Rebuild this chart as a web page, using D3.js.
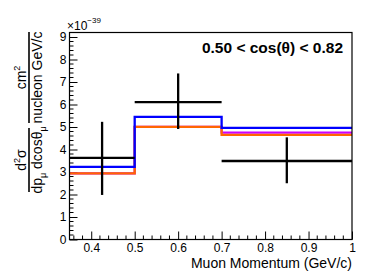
<!DOCTYPE html>
<html>
<head>
<meta charset="utf-8">
<script src="https://cdn.jsdelivr.net/npm/d3@7"></script>
<style>
  body { margin: 0; background: #fff; }
  svg { display: block; font-family: "Liberation Sans", Arial, sans-serif; }
</style>
</head>
<body>
<svg id="chart" width="387" height="273"></svg>
<script>
// bin edges in muon momentum (GeV/c)
const binEdges = [0.35, 0.5, 0.7, 1.0];
// cross section in units of 1e-39 cm^2 / nucleon GeV/c
const dataValues = [3.63, 6.11, 3.49];
const dataErrLow = [1.98, 4.91, 2.50];
const dataErrHigh = [5.23, 7.38, 4.54];
const blueValues = [3.23, 5.45, 4.96];
const orangeValues = [2.94, 5.01, 4.65];
const magentaValues = [2.94, 5.01, 4.75];
const xTicks = [0.4, 0.5, 0.6, 0.7, 0.8, 0.9, 1];
const yTicks = [0, 1, 2, 3, 4, 5, 6, 7, 8, 9];

const margin = { top: 32.5, right: 35, bottom: 33.5, left: 69.5 },
  width = 387 - margin.left - margin.right,
  height = 273 - margin.top - margin.bottom;

const svg = d3.select('#chart');
const g = svg.append('g')
  .attr('transform', 'translate(' + margin.left + ',' + margin.top + ')');

const x = d3.scaleLinear().domain([0.35, 1.0]).range([0, width]);
const y = d3.scaleLinear().domain([0, 9.2]).range([height, 0]);

// minor ticks
const xMinor = d3.range(0.36, 1.0001, 0.02).filter(v => Math.abs(v * 10 - Math.round(v * 10)) > 1e-6);
const yMinor = d3.range(0.2, 9.2001, 0.2).filter(v => Math.abs(v - Math.round(v)) > 1e-6);

g.selectAll('line.xminor').data(xMinor).enter().append('line')
  .attr('x1', d => x(d)).attr('x2', d => x(d))
  .attr('y1', height).attr('y2', height - 4)
  .attr('stroke', '#000').attr('stroke-width', 1);
g.selectAll('line.yminor').data(yMinor).enter().append('line')
  .attr('y1', d => y(d)).attr('y2', d => y(d))
  .attr('x1', 0).attr('x2', 4)
  .attr('stroke', '#000').attr('stroke-width', 1);

// major axes, ticks pointing inward
const xAxis = d3.axisBottom(x).tickValues(xTicks).tickSizeInner(-8).tickSizeOuter(0)
  .tickPadding(3.5).tickFormat(d => d === 1 ? '1' : d3.format('.1f')(d));
const yAxis = d3.axisLeft(y).tickValues(yTicks).tickSizeInner(-8).tickSizeOuter(0)
  .tickPadding(3).tickFormat(d3.format('d'));

g.append('g').attr('transform', 'translate(0,' + height + ')').call(xAxis)
  .call(a => a.select('.domain').remove())
  .selectAll('text').attr('font-size', 12).attr('fill', '#000')
  .attr('font-family', '"Liberation Sans", Arial, sans-serif');
g.append('g').call(yAxis)
  .call(a => a.select('.domain').remove())
  .selectAll('text').attr('font-size', 12).attr('fill', '#000')
  .attr('font-family', '"Liberation Sans", Arial, sans-serif');

// histograms
const step = d3.line().x(d => x(d[0])).y(d => y(d[1])).curve(d3.curveStepAfter);
function histPoints(vals) {
  const pts = vals.map((v, i) => [binEdges[i], v]);
  pts.push([binEdges[binEdges.length - 1], vals[vals.length - 1]]);
  return pts;
}
[[magentaValues, '#cc00ff'], [orangeValues, '#ff6600'], [blueValues, '#0000ff']].forEach(([vals, col]) => {
  g.append('path').datum(histPoints(vals)).attr('d', step)
    .attr('fill', 'none').attr('stroke', col).attr('stroke-width', 2.3);
});

// data points with errors
const pts = dataValues.map((v, i) => ({
  lo: binEdges[i], hi: binEdges[i + 1], c: (binEdges[i] + binEdges[i + 1]) / 2,
  v: v, eL: dataErrLow[i], eH: dataErrHigh[i]
}));
g.selectAll('line.xerr').data(pts).enter().append('line')
  .attr('x1', d => x(d.lo)).attr('x2', d => x(d.hi))
  .attr('y1', d => y(d.v)).attr('y2', d => y(d.v))
  .attr('stroke', '#000').attr('stroke-width', 2.3);
g.selectAll('line.yerr').data(pts).enter().append('line')
  .attr('x1', d => x(d.c)).attr('x2', d => x(d.c))
  .attr('y1', d => y(d.eL)).attr('y2', d => y(d.eH))
  .attr('stroke', '#000').attr('stroke-width', 2.3);

// frame
g.append('rect').attr('x', 0).attr('y', 0).attr('width', width).attr('height', height)
  .attr('fill', 'none').attr('stroke', '#000').attr('stroke-width', 1.2);

// exponent label
const ex = svg.append('text').attr('x', 67).attr('y', 30).attr('font-size', 12).attr('fill', '#000');
ex.append('tspan').text('\u00d710');
ex.append('tspan').attr('dy', -7).attr('font-size', 8).text('\u221239');

// cut label
svg.append('text').attr('x', 343).attr('y', 53).attr('text-anchor', 'end')
  .attr('font-size', 15.5).attr('font-weight', 'bold').attr('fill', '#000')
  .text('0.50 < cos(\u03b8) < 0.82');

// x title
svg.append('text').attr('x', 352).attr('y', 268).attr('text-anchor', 'end')
  .attr('font-size', 14).attr('fill', '#000').text('Muon Momentum (GeV/c)');

// y title: two stacked fractions, rotated
function fraction(cy, len, num, den) {
  const fg = svg.append('g').attr('transform', 'translate(29,' + cy + ') rotate(-90)');
  fg.append('line').attr('x1', -len / 2).attr('x2', len / 2).attr('y1', 0).attr('y2', 0)
    .attr('stroke', '#000').attr('stroke-width', 1.6);
  const t1 = fg.append('text').attr('x', 0).attr('y', -3).attr('text-anchor', 'middle')
    .attr('font-size', 14).attr('fill', '#000');
  num(t1);
  const t2 = fg.append('text').attr('x', 0).attr('y', 13).attr('text-anchor', 'middle')
    .attr('font-size', 14).attr('fill', '#000');
  den(t2);
}
fraction(77.5, 91,
  t => { t.append('tspan').text('cm'); t.append('tspan').attr('dy', -6).attr('font-size', 9).text('2'); },
  t => { t.append('tspan').text('nucleon GeV/c'); });
fraction(160, 64,
  t => {
    t.append('tspan').text('d');
    t.append('tspan').attr('dy', -6).attr('font-size', 9).text('2');
    t.append('tspan').attr('dy', 6).text('\u03c3');
  },
  t => {
    t.append('tspan').text('dp');
    t.append('tspan').attr('dy', 4).attr('font-size', 9).text('\u03bc');
    t.append('tspan').attr('dy', -4).text(' dcos\u03b8');
    t.append('tspan').attr('dy', 4).attr('font-size', 9).text('\u03bc');
  });
</script>
</body>
</html>
